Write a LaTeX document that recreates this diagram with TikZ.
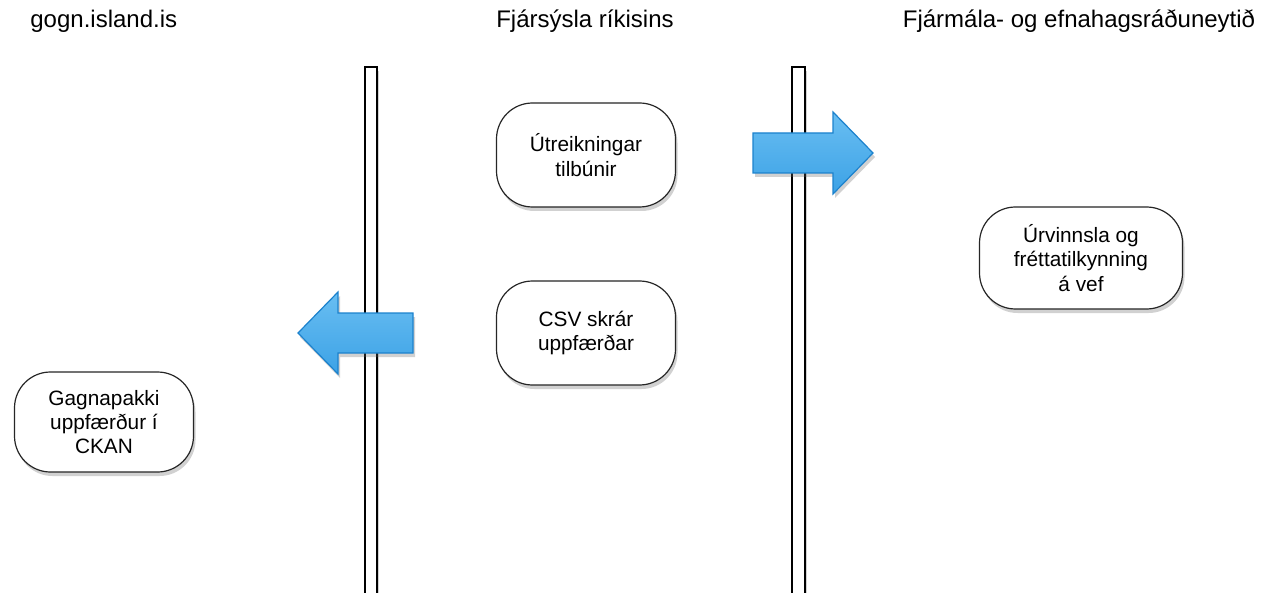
\documentclass[tikz,border=0pt]{standalone}
\usepackage{fontspec}
\setmainfont{Liberation Sans}
\usetikzlibrary{shadows}
\definecolor{flowtop}{RGB}{105,190,242}
\definecolor{flowbot}{RGB}{60,162,230}
\definecolor{flowline}{RGB}{28,130,205}

\begin{document}
\begin{tikzpicture}[x=0.5pt, y=-0.5pt]
	\tikzstyle{every node} = [inner sep=0pt]
	\tikzstyle{lane} = [font=\fontsize{12}{14}\selectfont, anchor=base]
	\tikzstyle{soft} = [drop shadow={shadow xshift=1pt, shadow yshift=-2pt, opacity=0.3, fill=black!60}]
	\tikzstyle{task} = [rectangle, draw=black!85, line width=0.6pt, rounded corners=18pt, fill=white, soft,
	                    align=center, minimum width=89.5pt, minimum height=52pt, font=\fontsize{10.4}{12.2}\selectfont]
	\tikzstyle{bar} = [draw=black, line width=0.7pt, fill=white, soft]
	\tikzstyle{flow} = [draw=flowline, line width=0.6pt, top color=flowtop, bottom color=flowbot, soft]
	\useasboundingbox (0,0) rectangle (1263,593);
	\node[lane, anchor=base west] (gogn) at (30,28) {gogn.island.is};
	\node[lane] (fjs)  at (585,28) {Fjársýsla ríkisins};
	\node[lane] (fjr)  at (1079,28) {Fjármála- og efnahagsráðuneytið};
	\draw[bar] (365,67) rectangle (377,600);
	\draw[bar] (792,67) rectangle (805,600);
	\node[task] (calc) at (586,155) {Útreikningar\\tilbúnir};
	\node[task] (csv)  at (586,333) {CSV skrár\\uppfærðar};
	\node[task, minimum width=101.5pt, minimum height=51pt] (web) at (1081,258) {Úrvinnsla og\\fréttatilkynning\\á vef};
	\node[task, minimum height=50pt] (ckan) at (104,422) {Gagnapakki\\uppfærður í\\CKAN};
	\path[flow] (413,313) -- (338,313) -- (338,292) -- (298,333) -- (338,374) -- (338,353) -- (413,353) -- cycle;
	\path[flow] (753,133) -- (833,133) -- (833,112) -- (873,153) -- (833,194) -- (833,173) -- (753,173) -- cycle;
\end{tikzpicture}
\end{document}
